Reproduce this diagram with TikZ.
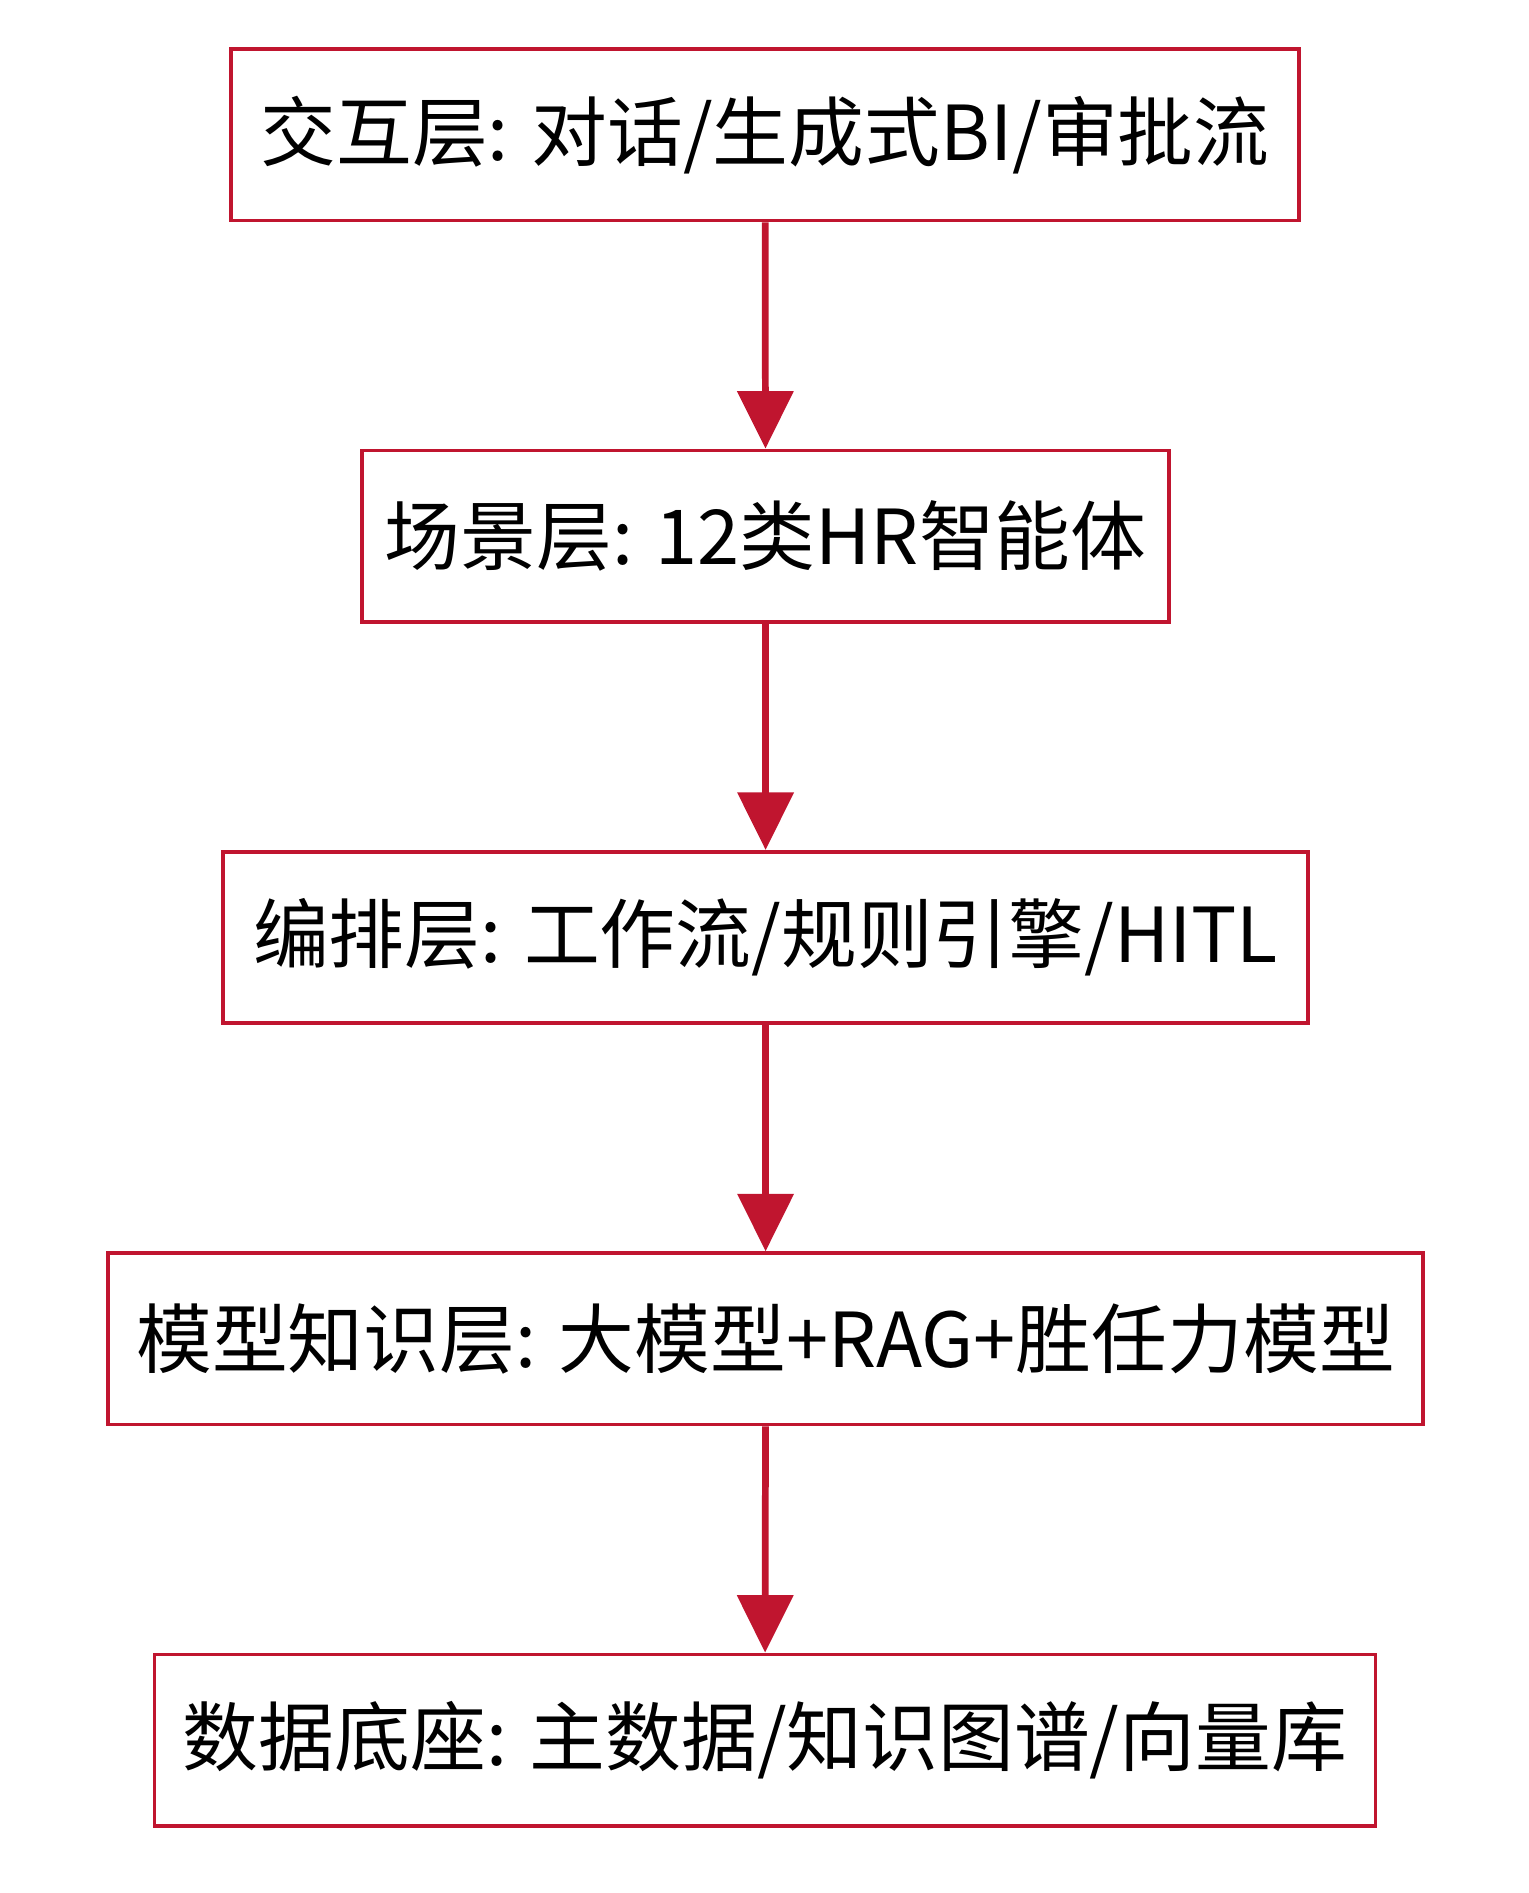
\documentclass[tikz,border=0pt]{standalone}
\usepackage{fontspec}
\setmainfont{Noto Sans CJK SC}
\usetikzlibrary{arrows.meta}
\definecolor{layerred}{HTML}{C0152F}
\tikzset{
  layer/.style = {rectangle, draw = layerred, line width = 0.9pt, fill = white,
                  minimum height = 1.43cm, inner sep = 0pt, font = \fontsize{18}{21}\selectfont},
  flow/.style  = {draw = layerred, line width = 1.6pt,
                  -{Triangle[length = 0.48cm, width = 0.46cm]}}
}
\begin{document}
\begin{tikzpicture}

\useasboundingbox (0,0) rectangle (12.76,-15.80);

%% Layers

\node[layer, minimum width = 8.91cm] (interact) at (6.385,-1.125) {交互层: 对话/生成式BI/审批流};

\node[layer, minimum width = 6.74cm] (scene) at (6.39,-4.475) {场景层: 12类HR智能体};

\node[layer, minimum width = 9.06cm] (orchestrate) at (6.39,-7.825) {编排层: 工作流/规则引擎/HITL};

\node[layer, minimum width = 10.98cm] (model) at (6.39,-11.175) {模型知识层: 大模型+RAG+胜任力模型};

\node[layer, minimum width = 10.19cm] (data) at (6.385,-14.525) {数据底座: 主数据/知识图谱/向量库};

%% Arrows

\draw[flow] (interact) -- (scene);
\draw[flow] (scene) -- (orchestrate);
\draw[flow] (orchestrate) -- (model);
\draw[flow] (model) -- (data);

\end{tikzpicture}
\end{document}
